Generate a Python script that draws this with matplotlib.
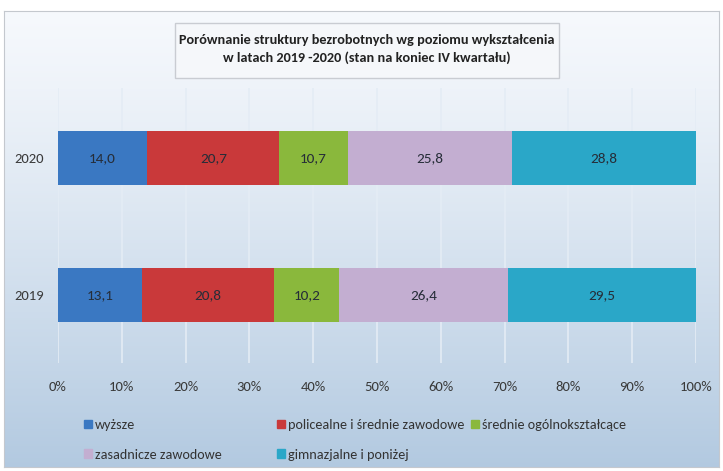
import numpy as np
import matplotlib.pyplot as plt
from matplotlib.patches import Patch, Rectangle

plt.rcParams['font.family'] = ['Carlito', 'DejaVu Sans']

years = ['2019', '2020']
categories = ['wyższe', 'policealne i średnie zawodowe', 'średnie ogólnokształcące',
              'zasadnicze zawodowe', 'gimnazjalne i poniżej']
values_2019 = [13.1, 20.8, 10.2, 26.4, 29.5]
values_2020 = [14.0, 20.7, 10.7, 25.8, 28.8]
colors = ['#3a78c2', '#c9393a', '#8ab83c', '#c3aed1', '#2aa7c8']
title = ('Porównanie struktury bezrobotnych wg poziomu wykształcenia\n'
         'w latach 2019 -2020 (stan na koniec IV kwartału)')

W, H = 723, 471
fig = plt.figure(figsize=(W / 100, H / 100), dpi=100)

# background gradient (white -> light blue), chart frame
bg = fig.add_axes([4 / W, 1 - 467 / H, 715 / W, 456 / H])
grad = np.linspace(0, 1, 256).reshape(-1, 1)
top = np.array([0.965, 0.975, 0.99])
bot = np.array([0.70, 0.79, 0.88])
img = top + (bot - top) * grad[:, :, None] ** 1.2
bg.imshow(img, aspect='auto', extent=[0, 1, 0, 1])
bg.set_xticks([])
bg.set_yticks([])
for s in bg.spines.values():
    s.set_color('#c4c8ce')

ax = fig.add_axes([58 / W, 1 - 363 / H, 638 / W, 275 / H])
ax.patch.set_alpha(0)
data = np.array([values_2019, values_2020])
y = np.arange(len(years))
left = np.zeros(len(years))
for i, cat in enumerate(categories):
    bars = ax.barh(y, data[:, i], left=left, height=0.4, color=colors[i], label=cat)
    ax.bar_label(bars, labels=[f'{v:.1f}'.replace('.', ',') for v in data[:, i]],
                 label_type='center', fontsize=11, color='#262d38')
    left += data[:, i]

ax.set_xlim(0, 100)
ax.set_ylim(-0.496, 1.511)
ax.set_xticks(range(0, 101, 10))
ax.set_xticklabels([f'{t}%' for t in range(0, 101, 10)], fontsize=10.5, color='#3a3a3a')
ax.set_yticks(y)
ax.set_yticklabels(years, fontsize=10.5, color='#3a3a3a')
ax.tick_params(axis='x', length=0, pad=13)
ax.tick_params(axis='y', length=0, pad=10)
ax.grid(axis='x', color='#e4ecf5', linewidth=1.2)
ax.set_axisbelow(True)
for s in ax.spines.values():
    s.set_visible(False)

# title box
fig.patches.append(Rectangle((175 / W, 1 - 78 / H), 384 / W, 55 / H, transform=fig.transFigure,
                             facecolor='#f5f7fa', edgecolor='#c9ccd2', linewidth=1))
fig.text(367 / W, 1 - 49 / H, title, ha='center', va='center', fontsize=10.3,
         fontweight='bold', color='#222222', linespacing=1.55)

# legend in three columns like the original
handles = [Patch(color=c) for c in colors]
cols = [([0, 3], 84), ([1, 4], 277), ([2], 471)]
for idx, x0 in cols:
    leg = fig.legend([handles[k] for k in idx], [categories[k] for k in idx],
                     loc='upper left', bbox_to_anchor=(x0 / W, 1 - 419 / H), frameon=False,
                     fontsize=10.2, handlelength=0.55, handleheight=0.55,
                     handletextpad=0.2, labelspacing=1.25, borderpad=0, borderaxespad=0)
    for t in leg.get_texts():
        t.set_color('#333333')

fig.savefig('out.png', dpi=100)
